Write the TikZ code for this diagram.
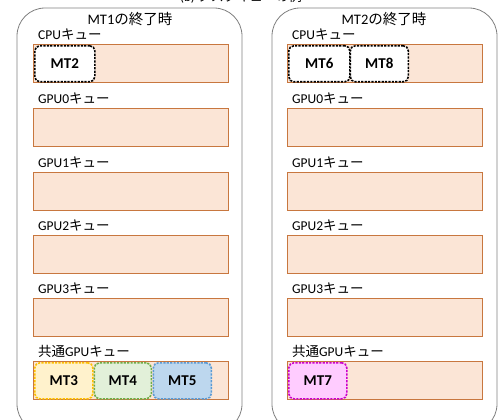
\documentclass[tikz,border=0pt]{standalone}
\usepackage{fontspec}
\setmainfont{Carlito}
\newfontfamily\jp{Noto Sans CJK JP}
\definecolor{qfill}{HTML}{FBE5D6}
\definecolor{qborder}{HTML}{C8773F}
\definecolor{frame}{HTML}{7F7F7F}
\definecolor{yfill}{HTML}{FFF2CC}
\definecolor{ydraw}{HTML}{FFC000}
\definecolor{gfill}{HTML}{E2F0D9}
\definecolor{gdraw}{HTML}{70AD47}
\definecolor{bfill}{HTML}{BDD7EE}
\definecolor{bdraw}{HTML}{5B9BD5}
\definecolor{mfill}{HTML}{FFCCFF}
\definecolor{mdraw}{HTML}{CC00CC}
\begin{document}
\begin{tikzpicture}[x=1pt,y=-1pt,
  outer/.style={draw=frame, line width=0.8pt, rounded corners=28pt},
  queue/.style={draw=qborder, fill=qfill, line width=1pt, anchor=north west,
    minimum width=195pt, minimum height=38pt, inner sep=0pt},
  qlabel/.style={anchor=west, inner sep=0pt, font=\fontsize{13.5}{14}\selectfont},
  ttl/.style={inner sep=0pt, font=\fontsize{14.5}{15}\selectfont},
  task/.style={rounded corners=5pt, dash pattern=on 2.2pt off 1.2pt, line width=1.6pt,
    anchor=north west, minimum height=36pt, inner sep=0pt,
    font=\bfseries\fontsize{15}{16}\selectfont},
  btask/.style={task, draw=black, fill=white}
]
\useasboundingbox (0,0) rectangle (498,420);
% cut-off caption at the top
\node[inner sep=0pt, anchor=south, font=\fontsize{13}{14}\selectfont] (cap) at (241,3.5) {(b) {\jp タスクキューの例}};
% outer panels
\draw[outer] (17,8) rectangle (242,432);
\draw[outer] (272,8) rectangle (497,432);
\node[ttl] (t1) at (130,19) {MT1{\jp の終了時}};
\node[ttl] (t2) at (384,19) {MT2{\jp の終了時}};
% queues
\foreach \px/\pn in {33/L,287/R}{
  \foreach \yy/\lab/\id in {44/CPU/cpu,108/GPU0/g0,172/GPU1/g1,235/GPU2/g2,298/GPU3/g3}{
    \node[queue] (\pn\id) at (\px,\yy) {};
    \node[qlabel] (\pn\id lab) at (\px+5,\yy-10) {\lab{\jp キュー}};
  }
  \node[queue] (\pn sh) at (\px,361) {};
  \node[qlabel] (\pn shlab) at (\px+5,351) {{\jp 共通}GPU{\jp キュー}};
}
% tasks left
\node[btask, minimum width=60pt] (mt2) at (34,45) {MT2};
\node[task, draw=ydraw, fill=yfill, minimum width=58pt] (mt3) at (34,362) {MT3};
\node[task, draw=gdraw, fill=gfill, minimum width=57pt] (mt4) at (93.5,362) {MT4};
\node[task, draw=bdraw, fill=bfill, minimum width=58pt] (mt5) at (152.5,362) {MT5};
% tasks right
\node[btask, minimum width=61pt] (mt6) at (288,45) {MT6};
\node[btask, minimum width=58pt] (mt8) at (349.5,45) {MT8};
\node[task, draw=mdraw, fill=mfill, minimum width=58pt] (mt7) at (288,362) {MT7};
\end{tikzpicture}
\end{document}
